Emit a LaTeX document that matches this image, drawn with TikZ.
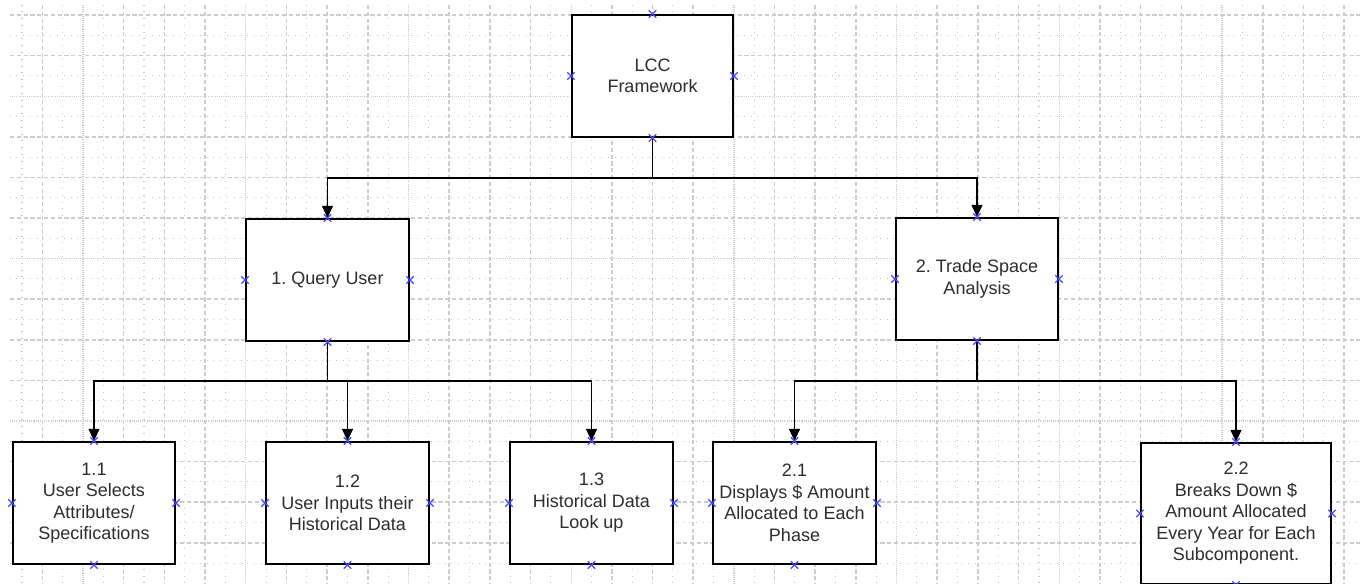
\documentclass[tikz,border=0pt]{standalone}
\usepackage{fontspec}
\setmainfont{Liberation Sans}
\usetikzlibrary{arrows.meta}
\definecolor{gridc}{RGB}{205,205,205}
\definecolor{gridm}{RGB}{200,200,200}
\definecolor{markc}{RGB}{70,70,255}
\definecolor{txtc}{RGB}{45,45,45}
\newcommand\conmark[1]{\draw[markstyle] (#1) +(-3.7,-3.7) -- +(3.7,3.7) +(-3.7,3.7) -- +(3.7,-3.7);}
\begin{document}
\frenchspacing
\begin{tikzpicture}[x=0.75pt,y=-0.75pt,
  box/.style={draw=black,line width=1.5pt,fill=white,rectangle,align=center,
    text=txtc,font=\fontsize{13.5}{16.1}\selectfont,inner sep=0pt},
  wire/.style={draw=black,line width=1.4pt},
  arr/.style={wire,-{Triangle[length=9pt,width=8pt]}},
  markstyle/.style={draw=markc,line width=1pt},
  majdash/.style={draw=gridc,line width=1.2pt,dash pattern=on 3.2pt off 1.9pt},
  majdot/.style={draw=gridc,line width=1.0pt,dash pattern=on 0.8pt off 0.8pt},
  mindot/.style={draw=gridm,line width=0.8pt,dash pattern=on 0.8pt off 4.3pt}]
\useasboundingbox (0,0) rectangle (1360,584);
\fill[white] (0,0) rectangle (1360,584);
% minor grid (dots)
\foreach \k in {0,...,14} {
  \pgfmathsetmacro\yy{15+40.6*\k-20.3}
  \draw[mindot,dash phase=0.5pt] (10,\yy) -- (1360,\yy);
}
\foreach \j in {-1,...,32} {
  \pgfmathsetmacro\xx{83+40.68*\j-20.34}
  \draw[mindot,dash phase=0.5pt] (\xx,5) -- (\xx,584);
}
% major grid
\foreach \k in {0,...,13} {
  \pgfmathsetmacro\yy{15+40.6*\k}
  \pgfmathtruncatemacro\mm{mod(\k+2,4)}
  \ifnum\mm=0 \draw[majdot] (10,\yy) -- (1360,\yy);
  \else \draw[majdash] (10,\yy) -- (1360,\yy); \fi
}
\foreach \j in {-1,...,31} {
  \pgfmathsetmacro\xx{83+40.68*\j}
  \pgfmathtruncatemacro\mm{mod(\j+4,4)}
  \ifnum\mm=0 \draw[majdot] (\xx,5) -- (\xx,584);
  \else \draw[majdash] (\xx,5) -- (\xx,584); \fi
}
% boxes
\node[box,minimum width=161*0.75pt,minimum height=122*0.75pt] (lcc) at (652.5,76) {LCC\\Framework};
\node[box,minimum width=163*0.75pt,minimum height=122*0.75pt] (q) at (327.5,280) {1. Query User};
\node[box,minimum width=162*0.75pt,minimum height=122*0.75pt] (t) at (977,279) {2. Trade Space\\Analysis};
\node[box,minimum width=162*0.75pt,minimum height=122*0.75pt] (b11) at (94,503) {1.1\\User Selects\\Attributes/\\Specifications};
\node[box,minimum width=163*0.75pt,minimum height=122*0.75pt] (b12) at (347.5,503) {1.2\\User Inputs their\\Historical Data};
\node[box,minimum width=163*0.75pt,minimum height=122*0.75pt] (b13) at (591.5,503) {1.3\\Historical Data\\Look up};
\node[box,minimum width=163*0.75pt,minimum height=122*0.75pt] (b21) at (794.5,503) {2.1\\Displays \$ Amount\\Allocated to Each\\Phase};
\node[box,minimum width=190*0.75pt,minimum height=141*0.75pt] (b22) at (1236,513.5) {2.2\\Breaks Down \$\\Amount Allocated\\Every Year for Each\\Subcomponent.};
% junctions
\coordinate (j0) at (652.5,178);
\coordinate (j1) at (327.5,381);
\coordinate (j2) at (977,381);
% connectors
\draw[wire] (lcc.south) -- (j0);
\draw[arr] (j0) -| (q.north);
\draw[arr] (j0) -| (t.north);
\draw[wire] (q.south) -- (j1);
\draw[arr] (j1) -| (b11.north);
\draw[arr] (j1) -| (b12.north);
\draw[arr] (j1) -| (b13.north);
\draw[wire] (t.south) -- (j2);
\draw[arr] (j2) -| (b21.north);
\draw[arr] (j2) -| (b22.north);
% connection markers
\foreach \n in {lcc,q,t,b11,b12,b13,b21,b22} {
  \conmark{\n.north}\conmark{\n.south}\conmark{\n.east}\conmark{\n.west}
}
\end{tikzpicture}
\end{document}
